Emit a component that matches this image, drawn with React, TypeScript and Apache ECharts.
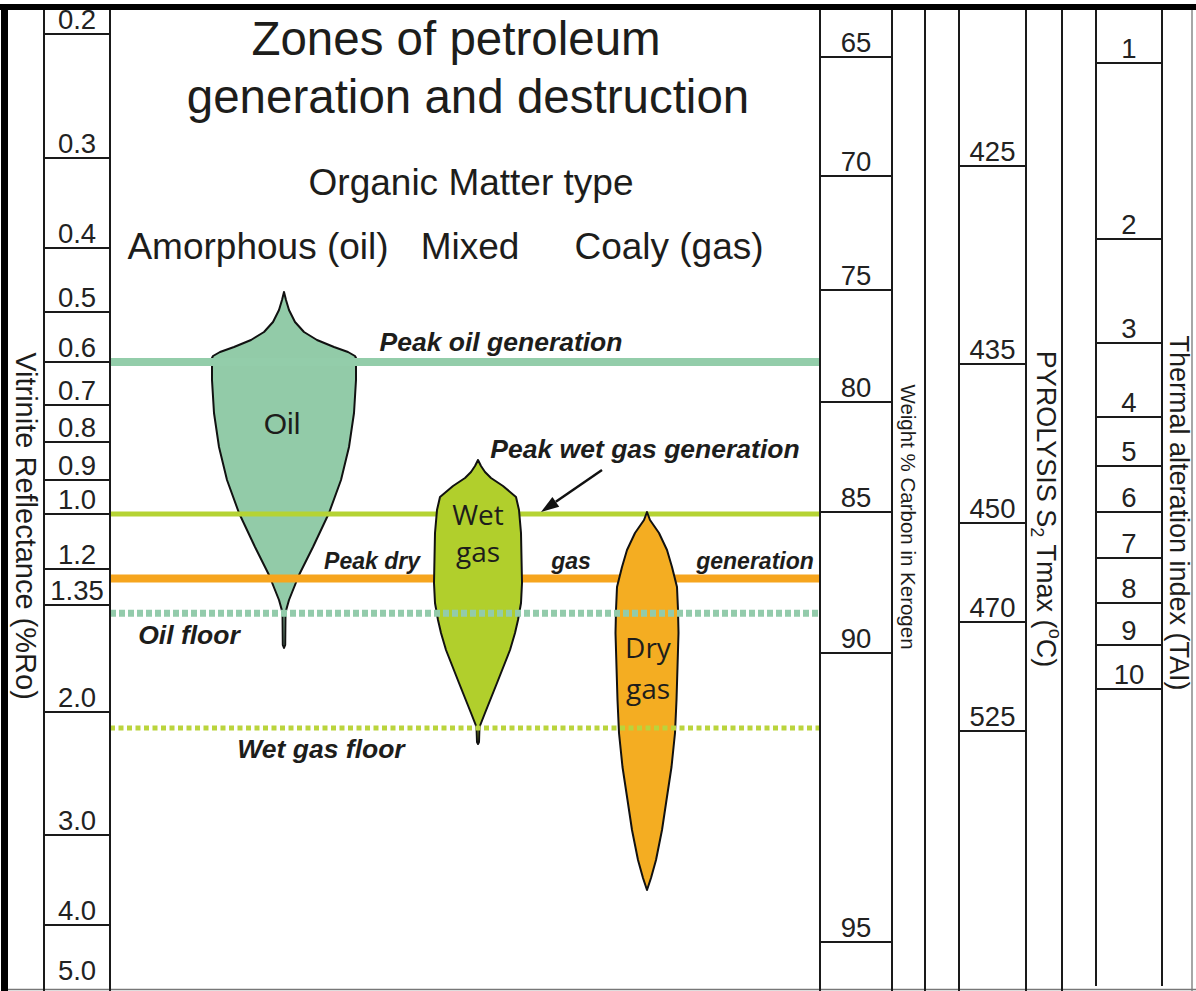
import React, { useEffect, useRef } from 'react';
import * as echarts from 'echarts';

// ---- Correlation scales: each boundary label with its place on the common maturity axis (0 = top) ----
const roLabels = ['0.2', '0.3', '0.4', '0.5', '0.6', '0.7', '0.8', '0.9', '1.0', '1.2', '1.35', '2.0', '3.0', '4.0', '5.0'];
const roLevels = [2.4, 14.8, 23.8, 30.2, 35.2, 39.5, 43.2, 47.0, 50.4, 55.9, 59.5, 70.2, 82.5, 91.5, 97.5];

const carbonLabels = ['65', '70', '75', '80', '85', '90', '95'];
const carbonLevels = [4.7, 16.6, 28.0, 39.2, 50.2, 64.3, 93.2];

const tmaxLabels = ['425', '435', '450', '470', '525'];
const tmaxLevels = [15.6, 35.4, 51.3, 61.2, 72.1];

const taiLabels = ['1', '2', '3', '4', '5', '6', '7', '8', '9', '10'];
const taiLevels = [5.3, 22.9, 33.3, 40.7, 45.6, 50.2, 54.8, 59.3, 63.5, 67.9];

// ---- Generation / destruction thresholds (%Ro) ----
const zoneNames = ['Peak oil generation', 'Peak wet gas generation', 'Peak dry gas generation', 'Oil floor', 'Wet gas floor'];
const zoneRo = [0.6, 1.0, 1.24, 1.4, 2.13];

// ---- Generation envelopes: maturity level vs relative generation ----
const oilLevels = [28.2, 29.0, 30.0, 31.2, 32.2, 33.0, 33.7, 34.2, 34.6, 35.0, 35.6, 37.0, 40.3, 43.7, 47.0, 50.3, 53.7, 56.5, 59.0, 60.0, 60.4, 63.5, 63.8];
const oilGeneration = [0, 2, 5, 11, 20, 33, 50, 64, 71, 73, 72, 72, 70, 65, 57, 45, 29, 15, 5, 2.2, 1.5, 1.2, 0];

const wetGasLevels = [45.0, 45.6, 46.2, 46.8, 47.6, 48.7, 50.0, 52.3, 57.3, 59.3, 61.0, 62.3, 64.0, 67.3, 70.3, 71.7, 73.2, 73.4];
const wetGasGeneration = [0, 3, 7, 13, 25, 38, 41, 43, 44, 43, 40, 37, 32, 19, 7, 1.5, 1, 0];

const dryGasLevels = [50.2, 51.0, 52.3, 54.0, 55.7, 57.7, 60.0, 62.3, 65.7, 69.0, 72.3, 75.7, 79.0, 82.0, 85.0, 86.8, 88.0];
const dryGasGeneration = [0, 3, 12, 20, 25, 30, 31, 31.5, 30.5, 29.5, 28, 24.5, 19.5, 15, 9, 4, 0];

// ---- Layout (x in page columns) ----
const FONT = '"Liberation Sans", Arial, Helvetica, sans-serif';
const FONT2 = '"Open Sans", "Noto Sans", sans-serif';
const PANEL = [110, 820];
const RO_COL = [44, 110];
const CARBON_COL = [820, 892];
const TMAX_COL = [959, 1026];
const TAI_COL = [1096, 1162];
const SEPARATORS = [44, 110, 820, 892, 925, 959, 1026, 1062, 1096, 1162];
const CENTER_OIL = 284;
const CENTER_WET = 478;
const CENTER_DRY = 647;

const zoneStyles = [
  { color: '#93CDAA', width: 8, dash: null },
  { color: '#B5D334', width: 5, dash: null },
  { color: '#F6A51E', width: 8, dash: null },
  { color: '#93CBAB', width: 7, dash: [6, 3] },
  { color: '#BAD43C', width: 5, dash: [5, 3.5] },
];

const roValues = roLabels.map(Number);
function roToLevel(ro: number): number {
  for (let i = 0; i < roValues.length - 1; i++) {
    if (ro >= roValues[i] && ro <= roValues[i + 1]) {
      const t = (ro - roValues[i]) / (roValues[i + 1] - roValues[i]);
      return roLevels[i] + t * (roLevels[i + 1] - roLevels[i]);
    }
  }
  return roLevels[roLevels.length - 1];
}

function scaleSeries(name: string, labels: string[], levels: number[], col: number[], closeLast: boolean) {
  return {
    type: 'custom',
    name,
    coordinateSystem: 'cartesian2d',
    silent: true,
    z: 3,
    data: levels.map((lv) => [col[0], lv]),
    renderItem: (params: any, api: any) => {
      const i = params.dataIndex;
      const a = api.coord([col[0], levels[i]]);
      const b = api.coord([col[1], levels[i]]);
      const children: any[] = [];
      if (closeLast || i < labels.length - 1) {
        children.push({
          type: 'line',
          shape: { x1: a[0], y1: a[1], x2: b[0], y2: b[1] },
          style: { stroke: '#1a1a1a', lineWidth: 2 },
        });
      }
      children.push({
        type: 'text',
        x: (a[0] + b[0]) / 2,
        y: a[1] - 1,
        style: { text: labels[i], fill: '#222', fontSize: 27.5, fontFamily: FONT, align: 'center', verticalAlign: 'bottom' },
      });
      return { type: 'group', children };
    },
  };
}

function envelopeSeries(name: string, levels: number[], gen: number[], cx: number, fill: string, z: number) {
  return {
    type: 'custom',
    name,
    coordinateSystem: 'cartesian2d',
    silent: true,
    z,
    data: [[cx, levels[0]]],
    renderItem: (_params: any, api: any) => {
      const left = levels.map((lv, i) => api.coord([cx - gen[i], lv]));
      const right = levels.map((lv, i) => api.coord([cx + gen[i], lv])).reverse();
      return {
        type: 'polygon',
        shape: { points: left.concat(right) },
        style: { fill, stroke: '#111', lineWidth: 2, lineJoin: 'round' },
      };
    },
  };
}

function zoneSeries(indices: number[], z: number) {
  return {
    type: 'custom',
    name: indices.map((i) => zoneNames[i]).join(', '),
    coordinateSystem: 'cartesian2d',
    silent: true,
    z,
    data: indices.map((i) => [PANEL[0], roToLevel(zoneRo[i])]),
    renderItem: (params: any, api: any) => {
      const idx = indices[params.dataIndex];
      const lv = roToLevel(zoneRo[idx]);
      const a = api.coord([PANEL[0], lv]);
      const b = api.coord([PANEL[1], lv]);
      const st = zoneStyles[idx];
      const style: any = { stroke: st.color, lineWidth: st.width, lineCap: 'butt' };
      if (st.dash) style.lineDash = st.dash;
      return { type: 'line', shape: { x1: a[0], y1: a[1], x2: b[0], y2: b[1] }, style };
    },
  };
}

function label(text: string, x: number, y: number, size: number, opts: any = {}) {
  return {
    type: 'text',
    x,
    y,
    z: 100,
    rotation: opts.rotation || 0,
    style: {
      text,
      fill: '#1d1d1b',
      fontSize: size,
      fontFamily: opts.family || FONT,
      fontWeight: opts.bold ? 'bold' : 'normal',
      fontStyle: opts.italic ? 'italic' : 'normal',
      align: 'center',
      verticalAlign: 'middle',
      ...(opts.rich ? { rich: opts.rich, lineHeight: 36 } : {}),
    },
  };
}

export default function App() {
  const ref = useRef<HTMLDivElement>(null);

  useEffect(() => {
    if (!ref.current) return;
    const chart = echarts.init(ref.current, null, { renderer: 'svg' });

    const frame: any[] = [
      { type: 'rect', shape: { x: 0, y: 4, width: 1196, height: 6 }, style: { fill: '#000' }, z: 100 },
      { type: 'rect', shape: { x: 1, y: 4, width: 7, height: 987 }, style: { fill: '#000' }, z: 100 },
      { type: 'line', shape: { x1: 1192, y1: 10, x2: 1192, y2: 991 }, style: { stroke: '#888', lineWidth: 1.5 }, z: 100 },
      { type: 'line', shape: { x1: 8, y1: 989.5, x2: 1196, y2: 989.5 }, style: { stroke: '#777', lineWidth: 1.5 }, z: 100 },
      ...SEPARATORS.map((x) => ({
        type: 'line',
        shape: { x1: x, y1: 10, x2: x, y2: x === 1096 || x === 1162 ? 986 : 991 },
        style: { stroke: '#1a1a1a', lineWidth: 2 },
        z: 100,
      })),
    ];

    const bi = { bold: true, italic: true };
    const texts: any[] = [
      label('Zones of petroleum', 456, 38, 47.5),
      label('generation and destruction', 468, 96, 47.5),
      label('Organic Matter type', 471, 182, 37),
      label('Amorphous (oil)', 258, 246, 37),
      label('Mixed', 470, 246, 37),
      label('Coaly (gas)', 669, 246, 37),
      label('Peak oil generation', 501, 342, 26.5, bi),
      label('Peak wet gas generation', 645, 449, 26.5, bi),
      label('Peak dry', 372, 561, 23, bi),
      label('gas', 571, 561, 23, bi),
      label('generation', 755, 561, 23, bi),
      label('Oil floor', 189, 635, 26.5, bi),
      label('Wet gas floor', 321, 749, 26.5, bi),
      label('Oil', 282, 423, 30),
      label('Wet', CENTER_WET, 514, 28, { family: FONT2 }),
      label('gas', CENTER_WET, 551, 28, { family: FONT2 }),
      label('Dry', 648, 647, 28, { family: FONT2 }),
      label('gas', 648, 688, 28, { family: FONT2 }),
      label('Vitrinite Reflectance (%Ro)', 26, 526, 29, { rotation: -Math.PI / 2 }),
      label('Weight % Carbon in Kerogen', 908, 517, 20.5, { rotation: -Math.PI / 2 }),
      label('PYROLYSIS S{sub|2} Tmax ({sup|o}C)', 1046, 509, 27, {
        rotation: -Math.PI / 2,
        rich: {
          sub: { fontSize: 18, fontFamily: FONT, fill: '#1d1d1b', verticalAlign: 'bottom', lineHeight: 36 },
          sup: { fontSize: 18, fontFamily: FONT, fill: '#1d1d1b', verticalAlign: 'top', lineHeight: 36 },
        },
      }),
      label('Thermal alteration index (TAI)', 1179, 513, 27, { rotation: -Math.PI / 2 }),
    ];

    // arrow pointing at the peak wet gas line
    const arrow: any[] = [
      { type: 'line', shape: { x1: 602, y1: 470, x2: 555.8, y2: 501.8 }, style: { stroke: '#111', lineWidth: 2.5 }, z: 100 },
      { type: 'polygon', shape: { points: [[541, 512], [559.2, 506.7], [552.4, 496.9]] }, style: { fill: '#111' }, z: 100 },
    ];

    chart.setOption({
      animation: false,
      backgroundColor: '#ffffff',
      grid: { left: 0, right: 0, top: 10, bottom: 2 },
      xAxis: { type: 'value', min: 0, max: 1196, show: false },
      yAxis: { type: 'value', min: 0, max: 97.9, inverse: true, show: false },
      graphic: [...frame, ...texts, ...arrow],
      series: [
        envelopeSeries('Oil', oilLevels, oilGeneration, CENTER_OIL, '#92CBA8', 2),
        zoneSeries([0, 1, 2], 3),
        envelopeSeries('Wet gas', wetGasLevels, wetGasGeneration, CENTER_WET, '#B1CF2C', 4),
        envelopeSeries('Dry gas', dryGasLevels, dryGasGeneration, CENTER_DRY, '#F4AD22', 4),
        zoneSeries([3, 4], 5),
        scaleSeries('Vitrinite reflectance', roLabels, roLevels, RO_COL, false),
        scaleSeries('Weight % carbon', carbonLabels, carbonLevels, CARBON_COL, true),
        scaleSeries('Tmax', tmaxLabels, tmaxLevels, TMAX_COL, true),
        scaleSeries('TAI', taiLabels, taiLevels, TAI_COL, true),
      ],
    });

    return () => chart.dispose();
  }, []);

  return (
    <div
      ref={ref}
      style={{ position: 'absolute', left: 0, top: 0, width: 1196, height: 991, background: '#fff' }}
    />
  );
}
